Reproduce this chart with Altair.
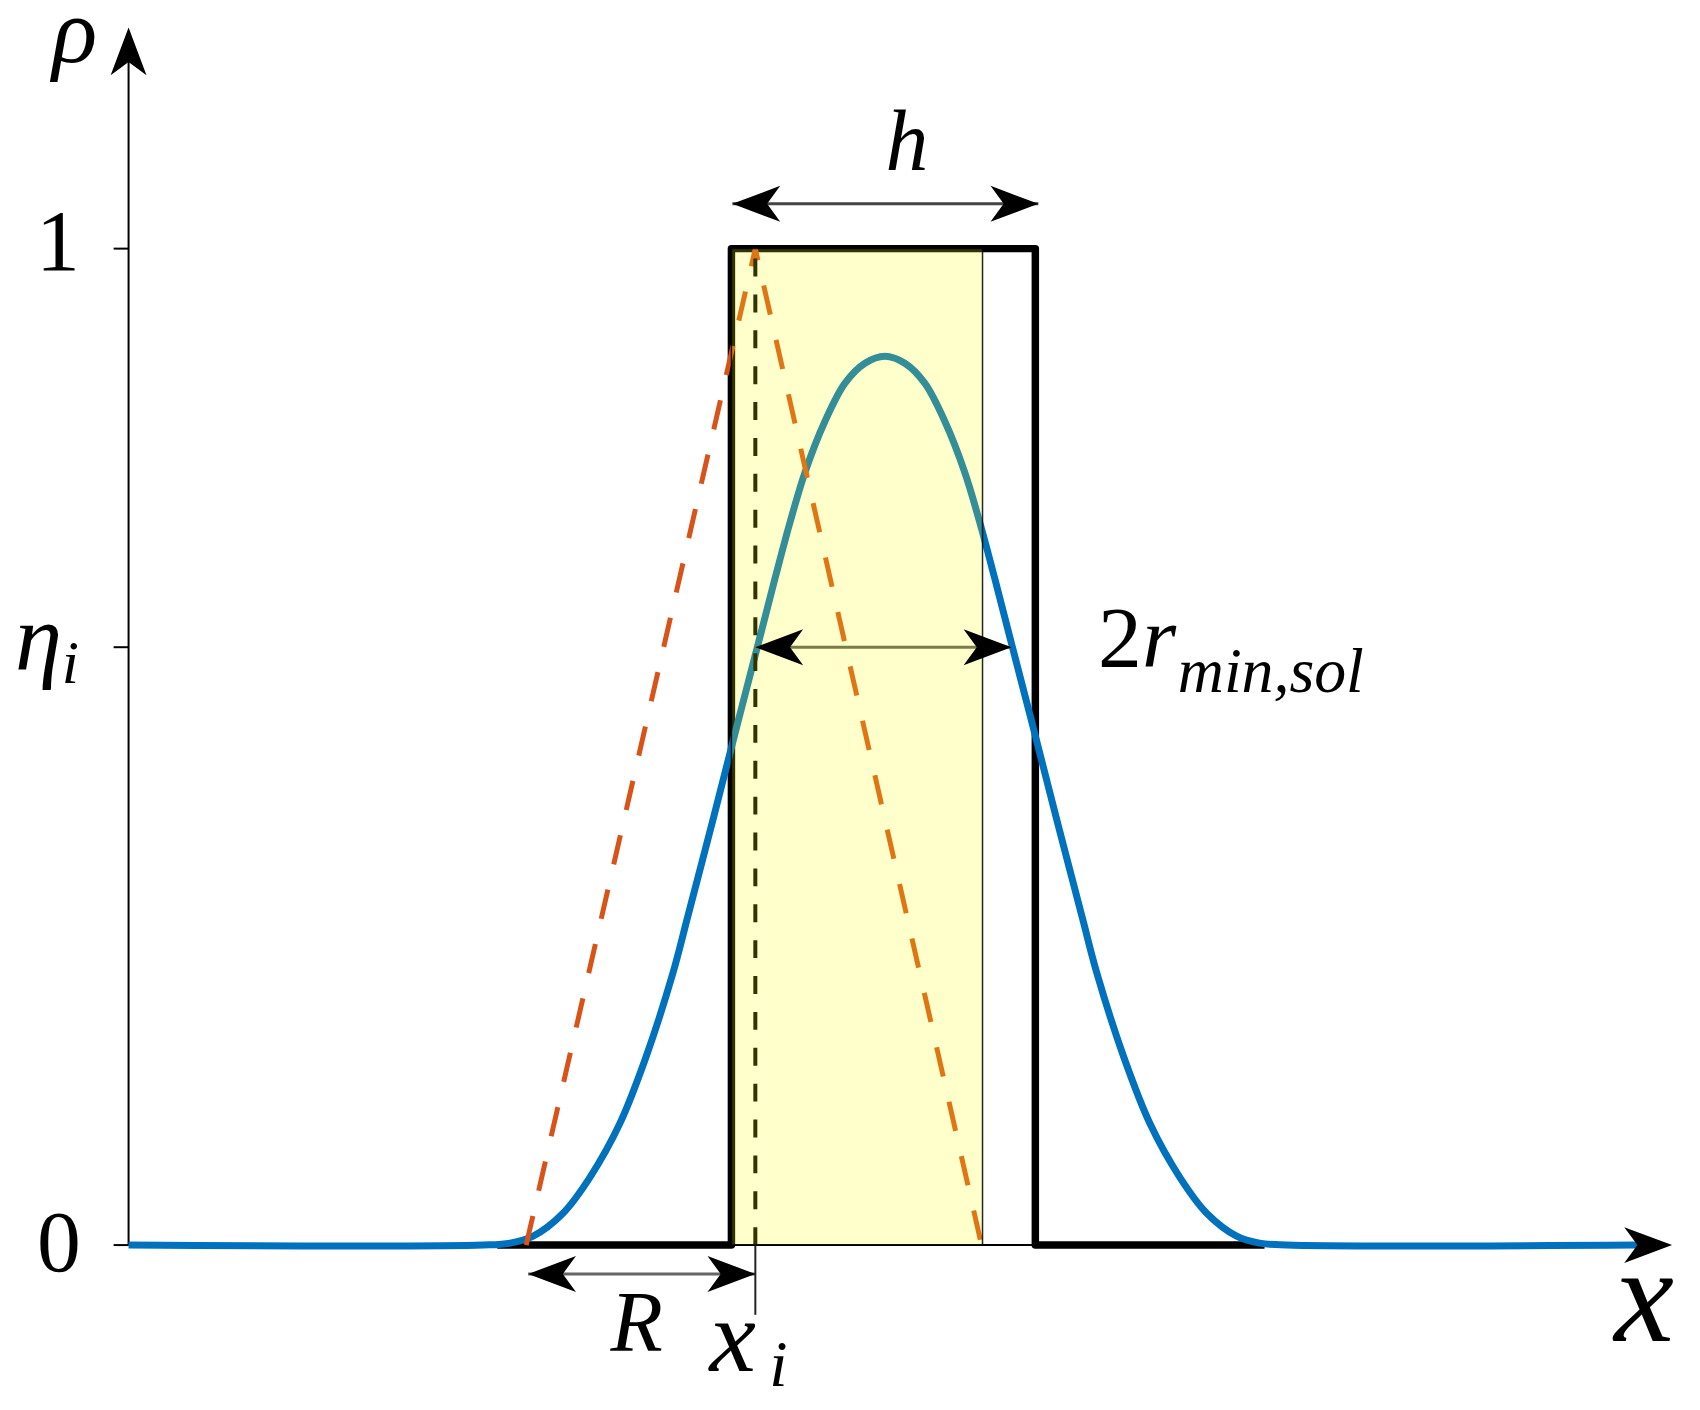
import altair as alt
import pandas as pd

# ---- data (x in units of 100 px, y in units of rho) ----
blue_x = [0.00, 3.56, 3.83, 4.06, 4.36, 4.63, 4.93, 5.19, 5.46, 5.61, 5.86, 6.09, 6.31, 6.49,
          6.64, 6.79, 6.99, 7.19, 7.39, 7.59, 7.79, 7.99, 8.19, 8.39, 8.54, 8.69, 8.87, 9.09,
          9.32, 9.57, 9.72, 9.99, 10.25, 10.55, 10.82, 11.12, 11.35, 11.62, 15.14]
blue_y = [0.000, 0.000, 0.002, 0.009, 0.032, 0.068, 0.122, 0.188, 0.272, 0.329, 0.425, 0.515,
          0.600, 0.670, 0.726, 0.776, 0.827, 0.865, 0.885, 0.892, 0.885, 0.865, 0.827, 0.776,
          0.726, 0.670, 0.600, 0.515, 0.425, 0.329, 0.272, 0.188, 0.122, 0.068, 0.032, 0.009,
          0.002, 0.000, 0.000]

tri_x = [3.99, 6.29, 8.56]
tri_y = [0.0, 1.0, 0.0]

step_x = [3.70, 6.05, 6.05, 9.10, 9.10, 11.40]
step_y = [0.0, 0.0, 1.0, 1.0, 0.0, 0.0]

yellow_x = [6.05, 8.57]
yellow_y = [0.0, 1.0]

x_i = 6.29
eta_i = 0.60
tick_vals = [0.0, 0.60, 1.0]

h_arrow = [6.06, 9.13, 1.045]
R_arrow = [4.01, 6.29, -0.029]
r_arrow = [6.29, 8.86, 0.60]

X_DOMAIN = [0, 15.49]
Y_DOMAIN = [0, 1.217]

# labels: text, x, y, fontSize, style, align
labels = [
    ("ρ", -0.54, 1.187, 94, "italic", "center"),
    ("1", -0.49, 0.979, 88, "normal", "right"),
    ("0", -0.48, -0.026, 88, "normal", "right"),
    ("η", -1.14, 0.577, 95, "italic", "left"),
    ("i", -0.67, 0.564, 62, "italic", "left"),
    ("h", 7.81, 1.079, 86, "italic", "center"),
    ("R", 5.10, -0.106, 86, "italic", "center"),
    ("x", 5.83, -0.126, 105, "italic", "left"),
    ("i", 6.43, -0.141, 66, "italic", "left"),
    ("x", 15.21, -0.096, 135, "italic", "center"),
    ("2", 9.73, 0.580, 88, "normal", "left"),
    ("r", 10.17, 0.580, 88, "italic", "left"),
    ("min,sol", 10.53, 0.555, 64, "italic", "left"),
]

FONT = "Liberation Serif"

xs = alt.Scale(domain=X_DOMAIN, nice=False, zero=False)
ys = alt.Scale(domain=Y_DOMAIN, nice=False, zero=False)


def X(f="x"):
    return alt.X(f"{f}:Q", scale=xs, axis=None)


def Y(f="y"):
    return alt.Y(f"{f}:Q", scale=ys, axis=None)


def rules(rows, **kw):
    df = pd.DataFrame(rows, columns=["x", "x2", "y", "y2"])
    return alt.Chart(df).mark_rule(**kw).encode(
        x=X(), x2=alt.X2("x2:Q"), y=Y(), y2=alt.Y2("y2:Q"))


def line(xv, yv, **kw):
    df = pd.DataFrame({"x": xv, "y": yv, "i": list(range(len(xv)))})
    return alt.Chart(df).mark_line(**kw).encode(x=X(), y=Y(), order=alt.Order("i:Q"))


layers = []

# axes
layers.append(rules([(0, 15.40, 0, 0), (0, 0, 0, 1.20)], color="black", strokeWidth=2))
layers.append(rules([(-0.15, 0, v, v) for v in tick_vals], color="black", strokeWidth=2))

# black step (indicator)
layers.append(line(step_x, step_y, color="black", strokeWidth=7.5, strokeJoin="round"))
# blue smooth density
layers.append(line(blue_x, blue_y, color="#0072BD", strokeWidth=7, interpolate="catmull-rom"))
# orange dashed hat
layers.append(line(tri_x, tri_y, color="#D95319", strokeWidth=5, strokeDash=[30, 26]))
# dashed x_i line
layers.append(rules([(x_i, x_i, 0, 1.0)], color="black", strokeWidth=4, strokeDash=[18, 18]))
# 2r shaft
layers.append(rules([(r_arrow[0], r_arrow[1], r_arrow[2], r_arrow[2])], color="#5a5a5a", strokeWidth=3))

# yellow region
ydf = pd.DataFrame({"x": [yellow_x[0]], "x2": [yellow_x[1]], "y": [yellow_y[0]], "y2": [yellow_y[1]]})
layers.append(alt.Chart(ydf).mark_rect(fill="#FFFF00", fillOpacity=0.2, stroke="black",
                                        strokeWidth=1.5, strokeOpacity=0.85).encode(
    x=X(), x2=alt.X2("x2:Q"), y=Y(), y2=alt.Y2("y2:Q")))

# other shafts
layers.append(rules([(h_arrow[0], h_arrow[1], h_arrow[2], h_arrow[2])], color="#444444", strokeWidth=3))
layers.append(rules([(R_arrow[0], R_arrow[1], R_arrow[2], R_arrow[2])], color="#666666", strokeWidth=3))
layers.append(rules([(x_i, x_i, 0, -0.070)], color="#222222", strokeWidth=2))

# arrowheads
heads = pd.DataFrame({
    "x": [0.0, 15.49, h_arrow[0], h_arrow[1], R_arrow[0], R_arrow[1], r_arrow[0], r_arrow[1]],
    "y": [1.222, 0.0, h_arrow[2], h_arrow[2], R_arrow[2], R_arrow[2], r_arrow[2], r_arrow[2]],
    "a": [270, 0, 180, 0, 180, 0, 180, 0],
})
layers.append(alt.Chart(heads).mark_point(
    shape="M0,0L-2,-0.75L-1.45,0L-2,0.75Z", size=2304, filled=True, color="black",
    opacity=1, strokeWidth=0).encode(x=X(), y=Y(), angle=alt.Angle("a:Q", scale=None)))

# labels
for t, lx, ly, fs, st, al in labels:
    df = pd.DataFrame({"x": [lx], "y": [ly], "t": [t]})
    layers.append(alt.Chart(df).mark_text(
        font=FONT, fontStyle=st, fontSize=fs, align=al,
        baseline="alphabetic", color="black").encode(x=X(), y=Y(), text="t:N"))

chart = alt.layer(*layers).properties(
    width=1549, height=1217,
    padding={"left": 121, "top": 22, "right": 20, "bottom": 154},
    autosize=alt.AutoSizeParams(type="none"),
).configure_view(stroke=None)

chart.save("out.html", embed_options={"renderer": "svg", "actions": False})
